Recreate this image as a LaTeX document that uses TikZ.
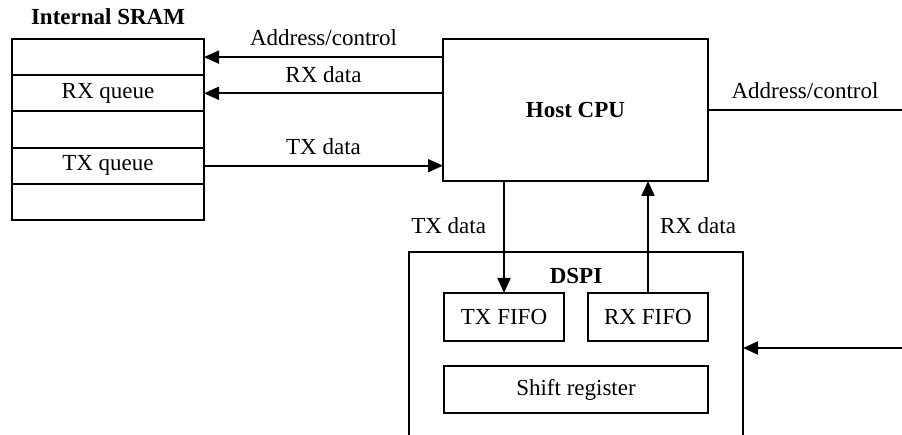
\documentclass[tikz,border=0pt]{standalone}
\usepackage{fontspec}
\setmainfont{Liberation Serif}
\usetikzlibrary{arrows.meta, positioning}

\begin{document}
\begin{tikzpicture}[
    x=1pt, y=-1pt,
    line width=2pt,
    font=\fontsize{23}{27}\selectfont,
    box/.style={draw, outer sep=0pt, inner sep=0pt},
    row/.style={box, minimum width=192pt, minimum height=36.2pt},
    title/.style={inner sep=0pt, font=\fontsize{23}{27}\selectfont\bfseries},
    lbl/.style={inner sep=0pt},
    arr/.style={-{Triangle[length=15pt, width=13pt]}}
]
    \useasboundingbox (0,0) rectangle (902,435);

    % Internal SRAM: stack of rows
    \node[row, anchor=north west] (s1) at (12,39) {};
    \node[row, below=0pt of s1] (s2) {RX queue};
    \node[row, below=0pt of s2] (s3) {};
    \node[row, below=0pt of s3] (s4) {TX queue};
    \node[row, below=0pt of s4] (s5) {};
    \node[title, above=13pt of s1] (sram) {Internal SRAM};

    % Host CPU
    \node[box, minimum width=265pt, minimum height=142pt, font=\fontsize{23}{27}\selectfont\bfseries] (cpu) at (575.5,110) {Host CPU};
    \coordinate (addrout) at (902,110);

    % DSPI block (bottom runs off the page)
    \node[box, anchor=north, minimum width=334pt, minimum height=220pt] (dspi) at (576,252) {};
    \node[title, below=15pt of dspi.north] (dspilbl) {DSPI};
    \node[box, minimum width=120pt, minimum height=48pt] (txfifo) at (504,317) {TX FIFO};
    \node[box, minimum width=120pt, minimum height=48pt, right=24pt of txfifo] (rxfifo) {RX FIFO};
    \node[box, minimum width=264pt, minimum height=47pt] (shift) at (576,389.5) {Shift register};
    \coordinate (spiin) at (902,348);

    % CPU <-> SRAM
    \draw[arr] (s1.east -| cpu.west) -- (s1.east) node[lbl, midway, above=10pt]{Address/control};
    \draw[arr] (s2.east -| cpu.west) -- (s2.east) node[lbl, midway, above=10pt]{RX data};
    \draw[arr] (s4.east) -- (s4.east -| cpu.west) node[lbl, midway, above=10pt]{TX data};

    % CPU <-> DSPI
    \draw[arr] (cpu.south -| txfifo) -- (txfifo) node[lbl, pos=0.4, left=17pt]{TX data};
    \draw[arr] (rxfifo) -- (cpu.south -| rxfifo) node[lbl, pos=0.6, right=11pt]{RX data};

    % external connections
    \draw (cpu.east) -- (addrout) node[lbl, midway, above=10pt]{Address/control};
    \draw[arr] (spiin) -- (spiin -| dspi.east);
\end{tikzpicture}
\end{document}
